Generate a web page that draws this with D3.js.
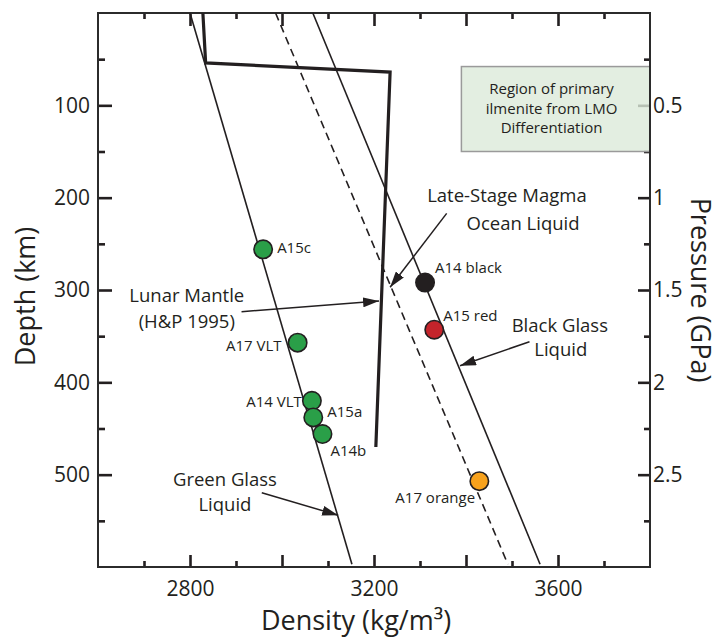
<!DOCTYPE html>
<html>
  <head>
    <meta charset="utf-8">
    <script src="https://d3js.org/d3.v7.min.js"></script>
    <title>Density vs depth</title>
    <style>
      body { margin: 0; background: #fff; }
      text { font-family: "Open Sans", sans-serif; fill: #231f20; }
      .tick line { stroke: #231f20; stroke-width: 2.6; }
      .tick text { font-size: 21px; }
      .axis-label { font-size: 27px; }
      .note { font-size: 18.5px; text-anchor: middle; }
      .pt-label { font-size: 15px; }
    </style>
  </head>
  <body>
    <svg width="721" height="639"></svg>
    <script>
      // axis ticks
      const densityTicks = [2700, 2800, 2900, 3000, 3100, 3200, 3300, 3400, 3500, 3600, 3700];
      const densityLabels = [2800, 3200, 3600];
      const depthTicks = [50, 100, 150, 200, 250, 300, 350, 400, 450, 500, 550];
      const depthLabels = [100, 200, 300, 400, 500];
      const pressureTicks = [0.25, 0.5, 0.75, 1, 1.25, 1.5, 1.75, 2, 2.25, 2.5, 2.75];
      const pressureLabels = [0.5, 1, 1.5, 2, 2.5];

      // glass samples (density kg/m3, depth km)
      const sampleNames = ['A15c', 'A17 VLT', 'A14 VLT', 'A15a', 'A14b', 'A14 black', 'A15 red', 'A17 orange'];
      const sampleDensity = [2959, 3034, 3065, 3068, 3088, 3311, 3331, 3429];
      const sampleDepth = [256, 357, 420, 438, 456, 292, 343, 507];
      const sampleType = ['green', 'green', 'green', 'green', 'green', 'black', 'red', 'orange'];

      // liquid density profiles [density, depth]
      const greenGlassLiquid = [[2800, 0], [3152, 597]];
      const lmoLiquid = [[2986, 0], [3491, 597]];
      const blackGlassLiquid = [[3067, 0], [3561, 597]];
      const lunarMantle = [[2828, 0], [2834, 54], [3235, 64], [3204, 470]];

      // ilmenite region [density0, density1], [depth0, depth1]
      const ilmDensity = [3390, 3800];
      const ilmDepth = [58, 150];
      const ilmText = ['Region of primary', 'ilmenite from LMO', 'Differentiation'];

      const svg = d3.select('svg');
      const margin = {left: 98, right: 71, top: 13, bottom: 72};
      const width = +svg.attr('width');
      const height = +svg.attr('height');

      const x = d3.scaleLinear().domain([2600, 3800]).range([margin.left, width - margin.right]);
      const y = d3.scaleLinear().domain([0, 600]).range([margin.top, height - margin.bottom]);
      const yP = d3.scaleLinear().domain([0, 3]).range([margin.top, height - margin.bottom]);

      const fillFor = {green: '#2a9f48', black: '#231f20', red: '#c4242b', orange: '#f7a21d'};

      // axes
      const bottomG = svg.append('g').attr('transform', `translate(0,${y(600)})`)
        .call(d3.axisBottom(x).tickValues(densityTicks).tickSize(-12).tickPadding(14)
          .tickFormat(d => densityLabels.includes(d) ? d : ''));
      bottomG.selectAll('.tick line').attr('y2', d => d % 200 === 0 ? -12 : -6);

      const topG = svg.append('g').attr('transform', `translate(0,${y(0)})`)
        .call(d3.axisTop(x).tickValues(densityTicks).tickSize(-13).tickFormat(''));
      topG.selectAll('.tick line').attr('y2', d => d % 200 === 0 ? 13 : 6);

      const leftG = svg.append('g').attr('transform', `translate(${x(2600)},0)`)
        .call(d3.axisLeft(y).tickValues(depthTicks).tickSize(-14).tickPadding(8)
          .tickFormat(d => depthLabels.includes(d) ? d : ''));
      leftG.selectAll('.tick line').attr('x2', d => d % 100 === 0 ? 14 : 7);

      const rightG = svg.append('g').attr('transform', `translate(${x(3800)},0)`)
        .call(d3.axisRight(yP).tickValues(pressureTicks).tickSize(-12).tickPadding(3)
          .tickFormat(d => pressureLabels.includes(d) ? String(d) : ''));
      rightG.selectAll('.tick line').attr('x2', d => (d * 2) % 1 === 0 ? -12 : -6);

      svg.selectAll('.domain').remove();

      // ilmenite box
      svg.append('rect')
        .attr('x', x(ilmDensity[0])).attr('y', y(ilmDepth[0]))
        .attr('width', x(ilmDensity[1]) - x(ilmDensity[0]))
        .attr('height', y(ilmDepth[1]) - y(ilmDepth[0]))
        .attr('fill', '#dceada').attr('fill-opacity', 0.8)
        .attr('stroke', '#9a9a9a').attr('stroke-width', 1.5);
      svg.append('g').selectAll('text').data(ilmText).enter().append('text')
        .attr('x', x(3586))
        .attr('y', (d, i) => y(88) + i * 19.5)
        .attr('text-anchor', 'middle')
        .style('font-size', '15px')
        .text(d => d);

      // frame
      svg.append('rect')
        .attr('x', x(2600)).attr('y', y(0))
        .attr('width', x(3800) - x(2600)).attr('height', y(600) - y(0))
        .attr('fill', 'none').attr('stroke', '#2b2b2b').attr('stroke-width', 2);

      const line = d3.line().x(d => x(d[0])).y(d => y(d[1]));

      svg.append('path').datum(greenGlassLiquid).attr('d', line)
        .attr('fill', 'none').attr('stroke', '#231f20').attr('stroke-width', 1.6);
      svg.append('path').datum(blackGlassLiquid).attr('d', line)
        .attr('fill', 'none').attr('stroke', '#231f20').attr('stroke-width', 1.6);
      svg.append('path').datum(lmoLiquid).attr('d', line)
        .attr('fill', 'none').attr('stroke', '#231f20').attr('stroke-width', 1.6)
        .attr('stroke-dasharray', '8,5');
      svg.append('path').datum(lunarMantle).attr('d', line)
        .attr('fill', 'none').attr('stroke', '#231f20').attr('stroke-width', 3.2)
        .attr('stroke-linejoin', 'miter');

      // arrows
      svg.append('defs').append('marker')
        .attr('id', 'head')
        .attr('markerUnits', 'userSpaceOnUse')
        .attr('markerWidth', 16).attr('markerHeight', 10)
        .attr('refX', 16).attr('refY', 5)
        .attr('orient', 'auto')
        .append('path').attr('d', 'M0,0 L16,5 L0,10 Z').attr('fill', '#231f20');

      const arrows = [
        [[3358, 217], [3235, 297]],
        [[2912, 323.5], [3211, 312]],
        [[3538, 356], [3387, 382]],
        [[2956, 519.5], [3122, 544]]
      ];
      svg.append('g').selectAll('line').data(arrows).enter().append('line')
        .attr('x1', d => x(d[0][0])).attr('y1', d => y(d[0][1]))
        .attr('x2', d => x(d[1][0])).attr('y2', d => y(d[1][1]))
        .attr('stroke', '#231f20').attr('stroke-width', 1.5)
        .attr('marker-end', 'url(#head)');

      const notes = [
        ['Late-Stage Magma', 3489, 204.5],
        ['Ocean Liquid', 3524, 235],
        ['Lunar Mantle', 2793, 313],
        ['(H&P 1995)', 2793, 341],
        ['Black Glass', 3604, 345],
        ['Liquid', 3606, 371.5],
        ['Green Glass', 2876, 512.5],
        ['Liquid', 2876, 539.5]
      ];
      svg.append('g').selectAll('text').data(notes).enter().append('text')
        .attr('class', 'note')
        .attr('x', d => x(d[1])).attr('y', d => y(d[2]))
        .text(d => d[0]);

      // sample points
      const labelPos = [
        {dx: 14, dy: 4, anchor: 'start'},
        {dx: -16, dy: 8, anchor: 'end'},
        {dx: -10, dy: 6, anchor: 'end'},
        {dx: 14, dy: 0, anchor: 'start'},
        {dx: 8, dy: 22, anchor: 'start'},
        {dx: 10, dy: -10, anchor: 'start'},
        {dx: 9, dy: -9, anchor: 'start'},
        {dx: -84, dy: 22, anchor: 'start'}
      ];
      const pts = svg.append('g');
      pts.selectAll('circle').data(sampleNames).enter().append('circle')
        .attr('cx', (d, i) => x(sampleDensity[i]))
        .attr('cy', (d, i) => y(sampleDepth[i]))
        .attr('r', 9.2)
        .attr('fill', (d, i) => fillFor[sampleType[i]])
        .attr('stroke', '#231f20').attr('stroke-width', 1.6);
      pts.selectAll('text').data(sampleNames).enter().append('text')
        .attr('class', 'pt-label')
        .attr('x', (d, i) => x(sampleDensity[i]) + labelPos[i].dx)
        .attr('y', (d, i) => y(sampleDepth[i]) + labelPos[i].dy)
        .attr('text-anchor', (d, i) => labelPos[i].anchor)
        .text(d => d);

      // axis titles
      svg.append('text').attr('class', 'axis-label')
        .attr('x', 356).attr('y', 630).attr('text-anchor', 'middle')
        .text('Density (kg/m³)');
      svg.append('text').attr('class', 'axis-label')
        .attr('transform', `translate(35,${y(307)}) rotate(-90)`)
        .attr('text-anchor', 'middle')
        .text('Depth (km)');
      svg.append('text').attr('class', 'axis-label')
        .attr('transform', `translate(691,${y(300)}) rotate(90)`)
        .attr('text-anchor', 'middle')
        .text('Pressure (GPa)');
    </script>
  </body>
</html>
